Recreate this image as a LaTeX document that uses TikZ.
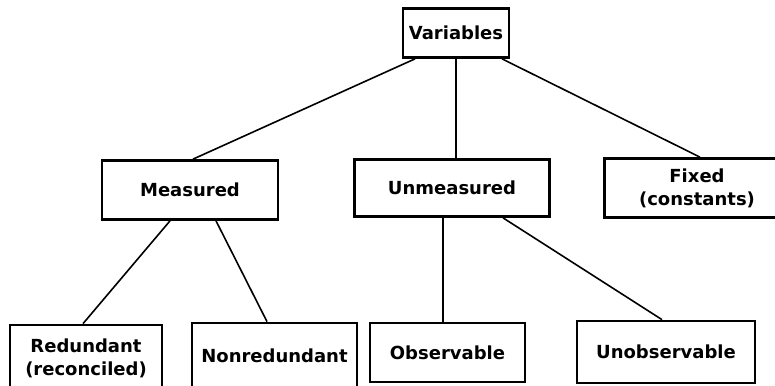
\documentclass[tikz,border=0pt]{standalone}
\usepackage{fontspec}
\setmainfont{DejaVu Sans}
\usetikzlibrary{positioning, calc}

\begin{document}
\begin{tikzpicture}[x=1pt, y=-1pt, every node/.style={font=\bfseries\fontsize{18}{23}\selectfont}]
        \tikzstyle{box} = [rectangle, draw=black, line width=2.7pt, align=center, inner sep=0pt]
        \tikzstyle{link} = [draw=black, line width=1.6pt]

        \useasboundingbox (0,0) rectangle (775,385);

        % top
        \node[box, minimum width=106, minimum height=49] (var) at (456,33) {Variables};

        % middle row
        \node[box, minimum width=176, minimum height=59] (meas) at (190,190) {Measured};
        \node[box, minimum width=195, minimum height=57] (unmeas) at (452,188) {Unmeasured};
        \node[box, minimum width=185, minimum height=59] (fixed) at (697,188) {Fixed\\(constants)};

        % bottom row
        \node[box, minimum width=152, minimum height=66] (red) at (86,358) {Redundant\\(reconciled)};
        \node[box, minimum width=165, minimum height=65] (nonred) at (274.5,355.5) {Nonredundant};
        \node[box, minimum width=155, minimum height=59] (obs) at (447.5,352.5) {Observable};
        \node[box, minimum width=178, minimum height=62] (unobs) at (666,352) {Unobservable};

        \draw[link] ([xshift=-41]var.south) -- ([xshift=3]meas.north);
        \draw[link] (var.south) -- (var.south |- unmeas.north);
        \draw[link] ([xshift=46]var.south) -- ([xshift=3]fixed.north);

        \draw[link] ([xshift=-20]meas.south) -- ([xshift=-3]red.north);
        \draw[link] ([xshift=26]meas.south) -- ([xshift=-7.5]nonred.north);

        \draw[link] ([xshift=-9]unmeas.south) -- ([xshift=-9]unmeas.south |- obs.north);
        \draw[link] ([xshift=51]unmeas.south) -- ([xshift=-4]unobs.north);
    \end{tikzpicture}
\end{document}
